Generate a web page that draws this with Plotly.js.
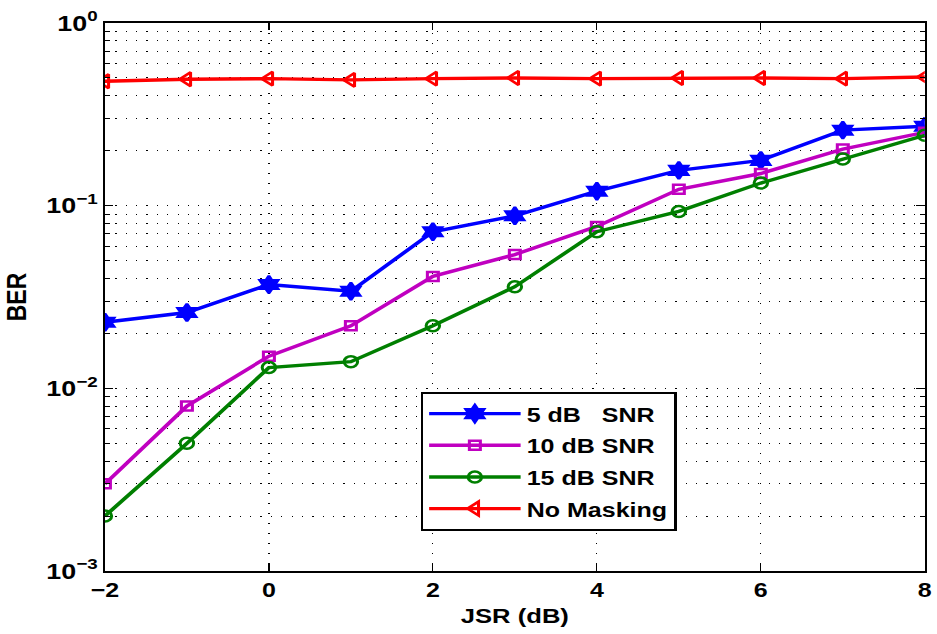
<!DOCTYPE html>
<html>
<head>
<meta charset="utf-8">
<script src="https://cdn.plot.ly/plotly-3.0.1.min.js"></script>
<style>
  html, body { margin: 0; padding: 0; background: #fff; overflow: hidden; }
  /* The figure is laid out at a narrower width and widened horizontally,
     giving the broad lettering and slightly oval markers of the figure. */
  #chart { width: 768px; height: 634px; transform: scaleX(1.22005); transform-origin: 0 0; }
</style>
</head>
<body>
<div id="chart"></div>
<script>
// JSR sweep (dB)
const jsr = [-2, -1, 0, 1, 2, 3, 4, 5, 6, 7, 8];

// Bit error rate per jamming-to-signal ratio
const ber5dB  = [0.023, 0.026, 0.037, 0.034, 0.072, 0.088, 0.12, 0.156, 0.177, 0.259, 0.272];
const ber10dB = [0.003, 0.008, 0.015, 0.022, 0.041, 0.054, 0.077, 0.123, 0.15, 0.204, 0.252];
const ber15dB = [0.002, 0.005, 0.013, 0.014, 0.022, 0.036, 0.072, 0.093, 0.133, 0.18, 0.243];
const berNoMask = [0.48, 0.492, 0.496, 0.488, 0.496, 0.50, 0.496, 0.50, 0.50, 0.496, 0.506];

const seriesNames = ['5 dB\u00a0\u00a0\u00a0SNR', '10 dB SNR', '15 dB SNR', 'No Masking'];

// Axis ticks
const xTicks = [-2, 0, 2, 4, 6, 8];
const yTicks = [0.001, 0.01, 0.1, 1];
const yTickText = ['10<sup>\u22123</sup>', '10<sup>\u22122</sup>', '10<sup>\u22121</sup>', '10<sup>0</sup>'];
const yMinor = [];
[0.001, 0.01, 0.1].forEach(d => { for (let k = 2; k <= 9; k++) yMinor.push(d * k); });

const FONT = 'Liberation Sans, Arial, Helvetica, sans-serif';
const dotGrid = '1px,7.5px';

function series(y, name, color, symbol, size) {
  return {
    x: jsr, y: y, name: name, type: 'scatter', mode: 'lines+markers',
    legendgroup: name,
    line: { color: color, width: 3.4 },
    marker: { symbol: symbol, size: size, color: color,
              line: { color: color, width: 2.5 } }
  };
}

const data = [
  series(ber5dB, seriesNames[0], '#0000ff', 'hexagram', 13),
  series(ber10dB, seriesNames[1], '#c000c0', 'square-open', 9),
  series(ber15dB, seriesNames[2], '#007f00', 'circle-open', 11),
  series(berNoMask, seriesNames[3], '#ff0000', 'triangle-left-open', 12)
];

const layout = {
  width: 768, height: 634,
  margin: { l: 86, r: 10, t: 23, b: 63 },
  paper_bgcolor: '#fff', plot_bgcolor: '#fff',
  font: { family: FONT, color: '#000', weight: 'bold' },
  showlegend: true,
  legend: {
    x: 0.385, y: 0.327, xanchor: 'left', yanchor: 'top',
    bgcolor: '#fff', bordercolor: '#000', borderwidth: 2,
    font: { family: FONT, size: 20.5, weight: 'bold', color: '#000' },
    itemwidth: 75, traceorder: 'grouped', tracegroupgap: 2
  },
  xaxis: {
    type: 'linear', range: [-2, 8],
    tickmode: 'array', tickvals: xTicks,
    ticks: 'inside', ticklen: 7, tickwidth: 1, tickcolor: '#000',
    showline: true, linecolor: '#000', linewidth: 1.6, mirror: 'ticks',
    showgrid: true, gridcolor: '#000', gridwidth: 1, griddash: '1px,9px',
    zeroline: false,
    tickfont: { family: FONT, size: 20.5, weight: 'bold' },
    title: { text: 'JSR (dB)', font: { family: FONT, size: 21, weight: 'bold' }, standoff: 8 }
  },
  yaxis: {
    type: 'log', range: [-3, 0],
    tickmode: 'array', tickvals: yTicks, ticktext: yTickText,
    ticks: 'inside', ticklen: 7, tickwidth: 1, tickcolor: '#000',
    showline: true, linecolor: '#000', linewidth: 1.6, mirror: 'ticks',
    showgrid: true, gridcolor: '#000', gridwidth: 1, griddash: dotGrid,
    zeroline: false,
    minor: {
      tickmode: 'array', tickvals: yMinor,
      ticks: 'inside', ticklen: 4, tickcolor: '#000',
      showgrid: true, gridcolor: '#000', gridwidth: 1, griddash: dotGrid
    },
    tickfont: { family: FONT, size: 22, weight: 'bold' },
    title: { text: 'BER', font: { family: FONT, size: 23, weight: 'bold' }, standoff: 9 }
  }
};

Plotly.newPlot('chart', data, layout, { displayModeBar: false, staticPlot: true });
</script>
</body>
</html>
